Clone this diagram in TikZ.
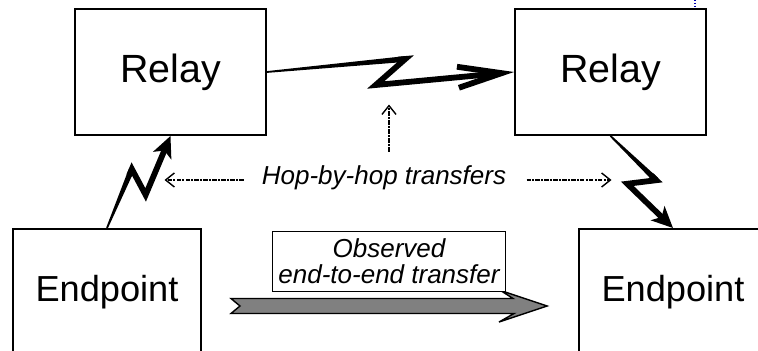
\documentclass[tikz,border=0pt]{standalone}
\usepackage{fontspec}
\setmainfont{Liberation Sans}
\usetikzlibrary{arrows.meta, calc, positioning}

\tikzset{
  box/.style={draw, line width=1.1pt, align=center},
  relay/.style={box, minimum width=3.82cm, minimum height=2.52cm, font=\fontsize{22.4}{26}\selectfont},
  endpoint/.style={box, minimum width=3.76cm, minimum height=2.52cm, font=\fontsize{20.6}{24}\selectfont},
  zap/.style={line width=3.3pt, line join=miter},
  hop/.style={line width=0.8pt, dash pattern=on 2.4pt off 0.9pt on 0.9pt off 0.9pt, -{Straight Barb[length=5pt, width=8pt]}},
  fat/.style={fill=black!50, draw=black, line width=0.8pt, line join=miter},
  note/.style={font=\fontsize{14.8}{15}\selectfont\itshape, align=center}
}

% lightning hop from #2 to #3, tip given in #1
\newcommand{\zap}[3][]{%
  \coordinate (zapP) at ($(#2)!0.56!(#3)!0.26cm!90:(#3)$);
  \coordinate (zapQ) at ($(#2)!0.44!(#3)!0.26cm!-90:(#3)$);
  \fill ($(#2)!0.5pt!90:(zapP)$) -- ($(zapP)!1.65pt!-90:(#2)$) -- ($(zapP)!1.65pt!90:(#2)$) -- ($(#2)!0.5pt!-90:(zapP)$) -- cycle;
  \draw[zap,#1] ($(zapP)!4pt!(#2)$) -- (zapP) -- (zapQ) -- (#3);
}

\begin{document}
\begin{tikzpicture}
\useasboundingbox (0,0) rectangle (15.16,7.02);

% relays on top, endpoints below
\node[relay] (relL) at (3.41,5.58) {Relay};
\node[relay] (relR) at (12.21,5.58) {Relay};
\node[endpoint] (epL) at (2.14,1.18) {Endpoint};
\node[endpoint] (epR) at (13.46,1.18) {Endpoint};

% wireless hops
\zap[-{Straight Barb[length=25pt, width=12pt]}]{relL.east}{relR.west}
\zap[-{Stealth[length=12pt, width=11pt, inset=3pt]}]{epL.north}{relL.south}
\zap[-{Stealth[length=12pt, width=11pt, inset=3pt]}]{relR.south}{epR.north}

% small blue mark by the right relay
\draw[blue!70!black, densely dotted, line width=0.6pt] (13.9,7.02) -- (13.9,6.88);

% hop-by-hop label and its pointers
\node[note, inner sep=0pt] (hop) at (7.68,3.47) {Hop-by-hop transfers};
\draw[hop] ([xshift=-0.36cm, yshift=-0.05cm]hop.west) -- ++(-1.58,0);
\draw[hop] ([xshift=0.40cm, yshift=-0.05cm]hop.east) -- ++(1.70,0);
\draw[hop] ([xshift=0.1cm, yshift=0.27cm]hop.north) -- ++(0,0.94);

% end-to-end arrow
\coordinate (obsA) at ($(epL.east)+(0.58,-0.28)$);
\coordinate (obsB) at ($(epR.west)+(-0.62,-0.28)$);
\filldraw[fat] ($(obsA)+(0,0.15)$) -- ($(obsB)+(-0.68,0.15)$) -- ($(obsB)+(-0.93,0.31)$) -- (obsB)
  -- ($(obsB)+(-0.96,-0.32)$) -- ($(obsB)+(-0.66,-0.15)$) -- ($(obsA)+(0,-0.15)$) -- ($(obsA)+(0.18,0)$) -- cycle;
\coordinate (obsTop) at ($(obsA)!0.5!(obsB)+(0,0.15)$);
\node[note, draw, fill=white, line width=0.7pt, minimum width=4.66cm, minimum height=1.2cm, inner sep=0pt, above=0.13cm of obsTop] (obs) {Observed\\end-to-end transfer};

\end{tikzpicture}
\end{document}
